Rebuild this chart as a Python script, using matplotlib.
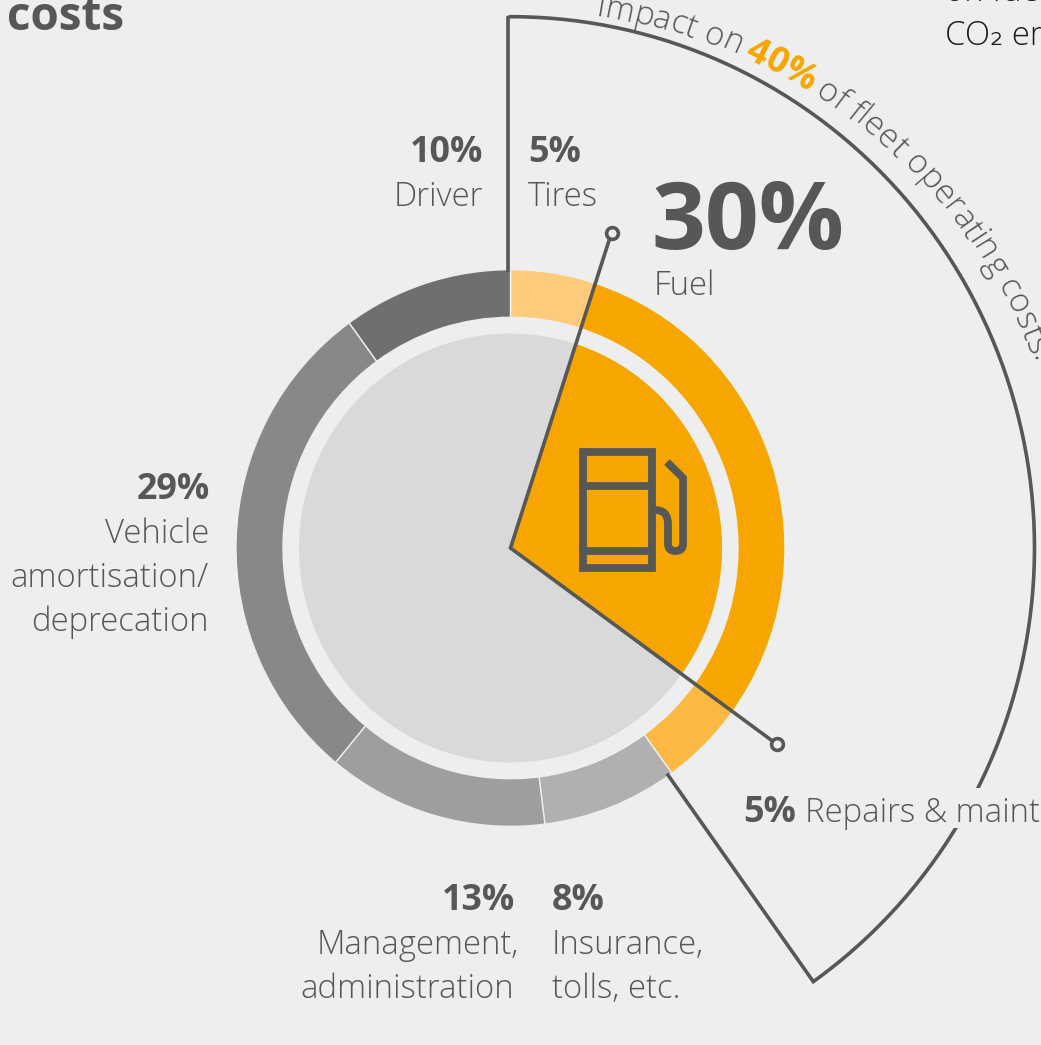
import numpy as np
import matplotlib
matplotlib.use('Agg')
import matplotlib.pyplot as plt
from matplotlib.patches import Wedge, Circle, Rectangle, PathPatch
from matplotlib.path import Path
from matplotlib.textpath import TextPath
from matplotlib.font_manager import FontProperties

# ---------- data ----------
categories = ['Tires', 'Fuel', 'Repairs & maintenance', 'Insurance, tolls, etc.',
              'Management, administration', 'Vehicle amortisation/deprecation', 'Driver']
shares = [5, 30, 5, 8, 13, 29, 10]
ring_colors = ['#fecb7c', '#f7a600', '#fbb944', '#b0b0b0', '#9e9e9e', '#888887', '#6f6f6d']
highlight_share = 40

W, H = 1041, 1045
BG = '#eeeeee'
DARK = '#575756'
FONT = 'Open Sans'
SY = 1.014
CX, CY = 510.5, 548.0

plt.rcParams['font.family'] = [FONT, 'DejaVu Sans']
fig = plt.figure(figsize=(W / 100, H / 100), dpi=100, facecolor=BG)
ax = fig.add_axes([0, 0, 1, 1])
ax.set_xlim(-CX, W - CX)
ax.set_ylim((CY - H) / SY, CY / SY)
ax.axis('off')

def P(px, py):
    return px - CX, (CY - py) / SY

def cw(pct):
    return 90 - 3.6 * pct

# ring and inner pie, both driven by the shares
edges = np.concatenate([[0], np.cumsum(shares)])
for s, e, col in zip(edges[:-1], edges[1:], ring_colors):
    ax.add_patch(Wedge((0, 0), 274.5, cw(e), cw(s), width=47, facecolor=col,
                       edgecolor=BG, linewidth=1.0, zorder=2))
ax.add_patch(Circle((0, 0), 211.5, facecolor='#d9d9d9', edgecolor='none', zorder=2))
fuel_s, fuel_e = edges[1], edges[2]
ax.add_patch(Wedge((0, 0), 211.5, cw(fuel_e), cw(fuel_s), facecolor='#f7a600',
                   edgecolor='none', zorder=3))

# pointers
for pct, r in [(fuel_s, 327), (fuel_e, 329.5)]:
    a = np.radians(cw(pct))
    x, y = r * np.cos(a), r * np.sin(a)
    ax.plot([0, x], [0, y], color=DARK, lw=2.6, zorder=5, solid_capstyle='round')
    ax.plot([x], [y], 'o', ms=8.5, mfc=BG, mec=DARK, mew=2.6, zorder=6)

# large outline
theta = np.radians(np.linspace(90, cw(highlight_share) - 0.7, 200))
R = 524.0
xa, ya = R * np.cos(theta), R * np.sin(theta)
start, corner, end = P(508, 270), P(508, 17.5), P(668, 775)
ax.plot(np.r_[start[0], corner[0], xa, end[0]], np.r_[start[1], corner[1], ya, end[1]],
        color=DARK, lw=2.6, zorder=4, solid_joinstyle='miter')

# fuel pump icon
lw = 5.6
x0, y0 = P(583, 452)
x1, y1 = P(652, 568)
ax.add_patch(Rectangle((x0, y1), x1 - x0, y0 - y1, fill=False, edgecolor=DARK, lw=lw,
                       joinstyle='miter', zorder=7))
for py in (486, 551):
    ax.plot(*zip(P(579, py), P(655, py)), color=DARK, lw=lw, zorder=7, solid_capstyle='butt')
hose = [P(655, 510), P(668, 510), P(668, 524), P(668, 544), P(668, 551), P(675.5, 551),
        P(683, 551), P(683, 544), P(683, 478), P(667, 462)]
codes = [Path.MOVETO, Path.CURVE3, Path.CURVE3, Path.LINETO, Path.CURVE3, Path.CURVE3,
         Path.CURVE3, Path.CURVE3, Path.LINETO, Path.LINETO]
ax.add_patch(PathPatch(Path(hose, codes), fill=False, edgecolor=DARK, lw=lw,
                       joinstyle='miter', capstyle='butt', zorder=7))

# mask where the label interrupts the outline
rx, ry = P(950, 828)
ax.add_patch(Rectangle((rx, ry), 100, 40 / SY, facecolor=BG, edgecolor='none', zorder=4.5))

LIGHT = dict(family=[FONT, 'DejaVu Sans'], fontweight='light', color=DARK, fontsize=23.7, zorder=8)
BOLD = dict(family=[FONT, 'DejaVu Sans'], fontweight='bold', color=DARK, fontsize=25.8, zorder=8)

def T(px, py, s, ha='left', style=LIGHT, **kw):
    x, y = P(px, py)
    d = dict(style); d.update(kw)
    ax.text(x, y, s, ha=ha, va='baseline', **d)

T(7, 30, 'costs', style=BOLD, fontsize=33)
T(945, 1, 'on fuel', color='#1d1d1b')
T(945, 45, 'CO₂ emissions', color='#1d1d1b')

T(483, 162, '10%', ha='right', style=BOLD)
T(483, 206, 'Driver', ha='right')
T(528, 162, '5%', style=BOLD)
T(528, 206, 'Tires')
T(651, 249, '30%', style=BOLD, fontsize=68)
T(654, 295, 'Fuel')
T(210, 499, '29%', ha='right', style=BOLD)
T(209, 543, 'Vehicle', ha='right')
T(209, 587, 'amortisation/', ha='right')
T(209, 631, 'deprecation', ha='right')
T(515, 910, '13%', ha='right', style=BOLD)
T(519, 954, 'Management,', ha='right')
T(514, 998, 'administration', ha='right')
T(552, 910, '8%', style=BOLD)
T(552, 954, 'Insurance,')
T(552, 998, 'tolls, etc.')
T(743, 822, '5%', style=BOLD)
T(805, 822, 'Repairs & maintenance')

# curved caption, placed one character at a time along the arc
def curved(s, weight, col, start_deg, r0, r1, fs):
    deg = start_deg
    k = 180 / np.pi
    fp = FontProperties(family=FONT, weight=weight, size=fs)
    full = ''
    for ch in s:
        adv = (TextPath((0, 0), full + ch + 'H', prop=fp).vertices[:, 0].max()
               - TextPath((0, 0), full + 'H', prop=fp).vertices[:, 0].max())
        adv *= 100 / 72
        r = r0 + (r1 - r0) * (deg - 25) / 45
        mid = deg + 0.5 * adv / r * k
        a = np.radians(90 - mid)
        if ch != ' ':
            ax.text(r * np.cos(a), r * np.sin(a), ch, rotation=-mid, rotation_mode='anchor',
                    ha='center', va='baseline', family=[FONT, 'DejaVu Sans'], fontweight=weight,
                    fontsize=fs, color=col, zorder=8)
        deg += adv / r * k
        full += ch

curved('impact on', 'light', DARK, 9.2, 537, 554, 23.7)
curved('40%', 'bold', '#f7a600', 25.7, 537, 554, 26)
curved('of fleet operating costs.', 'light', DARK, 34.2, 537, 554, 24)

fig.savefig('out.png', dpi=100, facecolor=BG)
